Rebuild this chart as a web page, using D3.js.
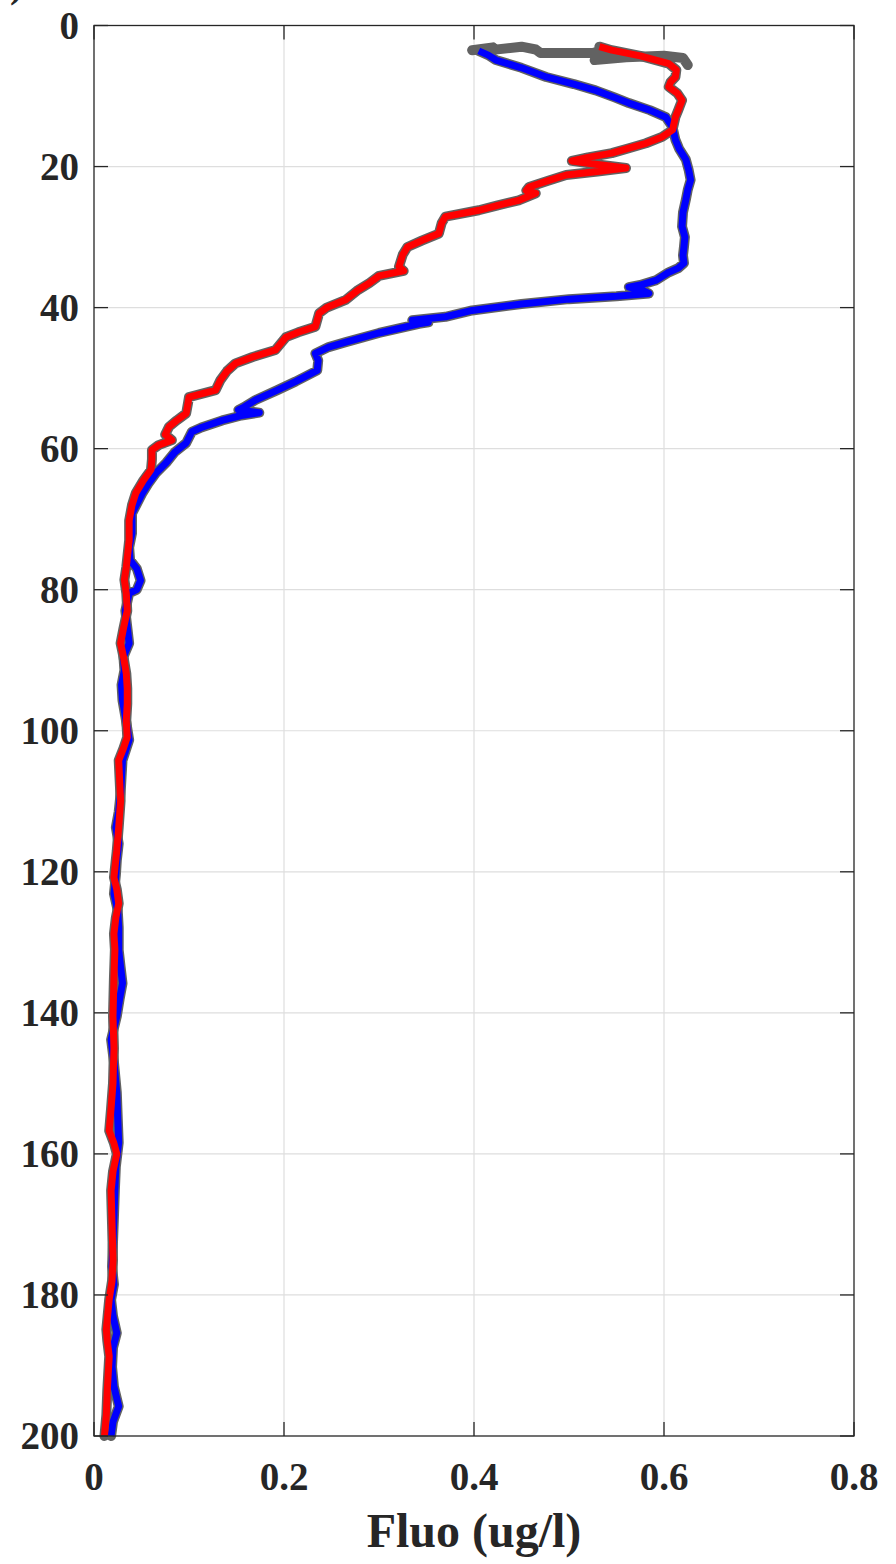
<!DOCTYPE html>
<html>
<head>
<meta charset="utf-8">
<script src="https://cdn.jsdelivr.net/npm/d3@7"></script>
<style>
  html, body { margin: 0; padding: 0; background: #fff; }
  svg text { font-family: "Times New Roman", "Liberation Serif", Tinos, Times, serif; font-weight: 700; fill: #262626; }
</style>
</head>
<body>
<div id="chart"></div>
<script>
// tick values
const xTicks = [0, 0.2, 0.4, 0.6, 0.8];
const yTicks = [0, 20, 40, 60, 80, 100, 120, 140, 160, 180, 200];

// blue profile (depth m, fluo ug/l)
const blueDepth = [3.6, 4.2, 4.9, 6.0, 7.3, 8.3, 9.2, 10.2, 11.0, 12.0, 13.0, 14.4, 16.2, 17.5, 19.0, 20.5, 21.9, 23.3, 24.7, 26.5,
  28.5, 30.0, 31.4, 32.6, 33.7, 34.4, 35.0, 36.1, 36.8, 37.1, 37.6, 38.0, 38.4, 38.8, 39.5, 40.4, 41.3, 41.8, 42.1, 42.3,
  43.6, 44.9, 45.6, 46.5, 47.5, 48.9, 50.5, 51.7, 53.1, 54.1, 54.5, 54.9, 55.3, 56.0, 57.0, 57.6, 59.2, 60.5, 62.0, 63.5,
  65.0, 66.3, 69.2, 72.0, 74.0, 75.8, 77.0, 78.7, 80.0, 80.5, 83.0, 85.3, 87.6, 89.5, 91.4, 93.5, 95.7, 98.0, 101.3, 104.2,
  106.5, 108.9, 111.5, 113.7, 116.0, 118.4, 120.5, 123.1, 125.5, 127.9, 131.1, 133.5, 135.8, 138.0, 140.5, 143.8, 147.0, 151.3, 155.0, 158.4,
  161.8, 165.0, 168.9, 172.5, 176.0, 178.5, 180.7, 183.0, 185.4, 187.5, 190.2, 193.0, 195.8, 198.0, 200.0];
const blueFluo = [0.405, 0.415, 0.423, 0.45, 0.476, 0.505, 0.528, 0.548, 0.563, 0.585, 0.602, 0.609, 0.612, 0.616, 0.623, 0.626, 0.628, 0.625, 0.623, 0.62,
  0.619, 0.622, 0.621, 0.62, 0.621, 0.615, 0.605, 0.592, 0.575, 0.563, 0.578, 0.584, 0.55, 0.5, 0.45, 0.398, 0.37, 0.335, 0.352, 0.342,
  0.3, 0.265, 0.247, 0.233, 0.236, 0.235, 0.212, 0.193, 0.17, 0.158, 0.152, 0.174, 0.155, 0.135, 0.113, 0.103, 0.097, 0.085, 0.076, 0.065,
  0.057, 0.051, 0.04, 0.04, 0.037, 0.038, 0.045, 0.049, 0.045, 0.037, 0.033, 0.035, 0.037, 0.031, 0.032, 0.029, 0.03, 0.033, 0.037, 0.03,
  0.029, 0.028, 0.026, 0.023, 0.026, 0.024, 0.023, 0.021, 0.025, 0.026, 0.026, 0.028, 0.03, 0.027, 0.024, 0.018, 0.021, 0.024, 0.025, 0.026,
  0.023, 0.022, 0.021, 0.02, 0.019, 0.021, 0.018, 0.02, 0.024, 0.02, 0.019, 0.021, 0.026, 0.02, 0.018];

// red profile (depth m, fluo ug/l)
const redDepth = [3.0, 3.5, 4.3, 5.4, 6.3, 7.3, 8.0, 8.7, 9.6, 10.6, 12.0, 13.0, 14.8, 15.8, 16.7, 17.4, 18.1, 18.7, 19.2, 19.7,
  20.2, 20.7, 21.2, 22.0, 22.9, 23.4, 23.8, 24.8, 25.5, 26.2, 27.1, 28.0, 29.5, 30.5, 31.4, 32.5, 34.2, 34.8, 35.5, 36.5,
  37.5, 38.9, 40.0, 40.8, 42.7, 43.5, 44.2, 46.0, 47.0, 47.9, 49.0, 50.3, 51.7, 52.7, 53.5, 55.0, 56.0, 56.9, 58.0, 58.8,
  59.5, 60.2, 61.5, 63.0, 64.5, 66.3, 68.0, 70.2, 73.0, 76.8, 78.6, 80.5, 83.0, 85.5, 87.6, 89.5, 91.9, 94.0, 96.2, 98.5,
  100.9, 102.5, 104.2, 107.0, 109.9, 113.7, 117.0, 120.8, 122.5, 124.5, 126.5, 128.8, 131.0, 135.0, 140.5, 145.0, 150.0, 153.5, 156.7, 158.5,
  160.0, 162.5, 165.2, 170.0, 175.0, 178.0, 180.6, 184.9, 186.5, 188.7, 193.5, 197.0, 200.0];
const redFluo = [0.532, 0.545, 0.575, 0.605, 0.613, 0.612, 0.607, 0.605, 0.614, 0.619, 0.615, 0.612, 0.609, 0.598, 0.581, 0.563, 0.545, 0.52, 0.503, 0.53,
  0.56, 0.53, 0.497, 0.478, 0.458, 0.455, 0.465, 0.447, 0.425, 0.405, 0.37, 0.366, 0.363, 0.345, 0.33, 0.325, 0.321, 0.326, 0.3, 0.29,
  0.278, 0.265, 0.245, 0.237, 0.233, 0.215, 0.202, 0.191, 0.167, 0.149, 0.14, 0.133, 0.128, 0.1, 0.099, 0.097, 0.087, 0.079, 0.075, 0.082,
  0.068, 0.061, 0.061, 0.06, 0.052, 0.044, 0.04, 0.037, 0.037, 0.034, 0.032, 0.034, 0.035, 0.031, 0.028, 0.031, 0.034, 0.035, 0.035, 0.034,
  0.035, 0.031, 0.026, 0.027, 0.028, 0.026, 0.024, 0.021, 0.024, 0.026, 0.023, 0.021, 0.022, 0.021, 0.02, 0.021, 0.02, 0.018, 0.016, 0.021,
  0.024, 0.02, 0.018, 0.019, 0.02, 0.019, 0.016, 0.013, 0.014, 0.016, 0.014, 0.013, 0.011];

// raw surface samples (gray) near the top
const grayTopDepth = [3.5, 3.1, 3.6, 3.0, 3.4, 3.9, 3.9, 3.5, 4.2, 4.9, 4.5, 4.3, 4.6, 5.6];
const grayTopFluo = [0.398, 0.42, 0.41, 0.45, 0.465, 0.47, 0.525, 0.535, 0.545, 0.527, 0.56, 0.6, 0.62, 0.625];

const width = 896;
const height = 1564;
const margin = { top: 25.5, right: 42, bottom: 128, left: 94 };
const plotW = width - margin.left - margin.right;
const plotH = height - margin.top - margin.bottom;

const svg = d3.select('#chart')
  .append('svg')
  .attr('width', width)
  .attr('height', height);

// cropped panel label at the very top
svg.append('text')
  .attr('x', 10)
  .attr('y', -3)
  .style('font-size', '40px')
  .text(')');

const g = svg.append('g')
  .attr('transform', `translate(${margin.left},${margin.top})`);

const x = d3.scaleLinear().domain([0, 0.8]).range([0, plotW]);
const y = d3.scaleLinear().domain([0, 200]).range([0, plotH]);

// grid
g.append('g')
  .selectAll('line')
  .data(xTicks.slice(1, -1))
  .enter()
  .append('line')
  .attr('x1', d => x(d)).attr('x2', d => x(d))
  .attr('y1', 0).attr('y2', plotH)
  .attr('stroke', '#dedede')
  .attr('stroke-width', 1.2);

g.append('g')
  .selectAll('line')
  .data(yTicks.slice(1, -1))
  .enter()
  .append('line')
  .attr('x1', 0).attr('x2', plotW)
  .attr('y1', d => y(d)).attr('y2', d => y(d))
  .attr('stroke', '#dedede')
  .attr('stroke-width', 1.2);

const toPoints = (depth, fluo) => depth.map((d, i) => [fluo[i], d]);
const line = d3.line()
  .x(d => x(d[0]))
  .y(d => y(d[1]));

const bluePts = toPoints(blueDepth, blueFluo);
const redPts = toPoints(redDepth, redFluo);
const grayPts = toPoints(grayTopDepth, grayTopFluo);

const plot = g.append('g');

// raw data underneath
[bluePts, redPts, grayPts].forEach(pts => {
  plot.append('path')
    .datum(pts)
    .attr('d', line)
    .attr('fill', 'none')
    .attr('stroke', '#626262')
    .attr('stroke-width', 10)
    .attr('stroke-linejoin', 'round')
    .attr('stroke-linecap', 'round');
});

plot.append('path')
  .datum(bluePts)
  .attr('d', line)
  .attr('fill', 'none')
  .attr('stroke', '#0000ff')
  .attr('stroke-width', 7)
  .attr('stroke-linejoin', 'round');

plot.append('path')
  .datum(redPts)
  .attr('d', line)
  .attr('fill', 'none')
  .attr('stroke', '#ff0000')
  .attr('stroke-width', 7)
  .attr('stroke-linejoin', 'round');

// box + inward ticks on all sides
const tickLen = 14;
const axisColor = '#262626';

const ticks = g.append('g').attr('stroke', axisColor).attr('stroke-width', 1.3);
xTicks.forEach(t => {
  ticks.append('line').attr('x1', x(t)).attr('x2', x(t)).attr('y1', plotH).attr('y2', plotH - tickLen);
  ticks.append('line').attr('x1', x(t)).attr('x2', x(t)).attr('y1', 0).attr('y2', tickLen);
});
yTicks.forEach(t => {
  ticks.append('line').attr('x1', 0).attr('x2', tickLen).attr('y1', y(t)).attr('y2', y(t));
  ticks.append('line').attr('x1', plotW).attr('x2', plotW - tickLen).attr('y1', y(t)).attr('y2', y(t));
});

g.append('rect')
  .attr('x', 0).attr('y', 0)
  .attr('width', plotW).attr('height', plotH)
  .attr('fill', 'none')
  .attr('stroke', axisColor)
  .attr('stroke-width', 1.3);

// tick labels
g.append('g')
  .selectAll('text')
  .data(xTicks)
  .enter()
  .append('text')
  .attr('x', d => x(d))
  .attr('y', plotH + 54)
  .attr('text-anchor', 'middle')
  .style('font-size', '39px')
  .text(d => d3.format('')(d));

g.append('g')
  .selectAll('text')
  .data(yTicks)
  .enter()
  .append('text')
  .attr('x', -15)
  .attr('y', d => y(d) + 13)
  .attr('text-anchor', 'end')
  .style('font-size', '39px')
  .text(d => d);

// axis label
svg.append('text')
  .attr('x', margin.left + plotW / 2)
  .attr('y', 1547)
  .attr('text-anchor', 'middle')
  .style('font-size', '48px')
  .text('Fluo (ug/l)');
</script>
</body>
</html>
